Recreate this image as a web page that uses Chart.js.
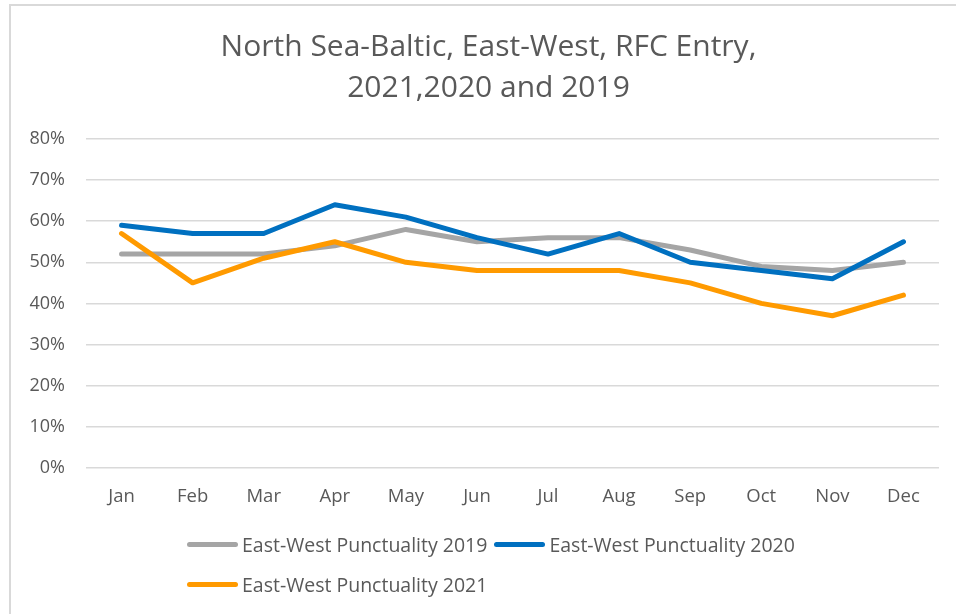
<!DOCTYPE html>
<html>
<head>
<meta charset="utf-8">
<script src="https://cdn.jsdelivr.net/npm/chart.js@4.4.1/dist/chart.umd.min.js"></script>
<style>
    html, body { margin: 0; padding: 0; background: #fff; }
    #wrap { position: relative; width: 956px; height: 614px; overflow: hidden; }
    #frame { position: absolute; left: 9px; top: 4px; width: 980px; height: 640px;
             border-top: 2px solid #d9d9d9; border-left: 2px solid #d9d9d9; }
    #chart { position: absolute; left: 0; top: 0; }
    #legend { position: absolute; left: 187px; top: 524px; width: 660px;
              display: flex; flex-wrap: wrap; font-family: 'Open Sans', sans-serif;
              font-size: 19.5px; color: #595959; }
    .item { display: flex; align-items: center; height: 40px; margin-right: 7px; }
    .swatch { width: 51px; height: 5px; border-radius: 3px; margin-right: 4px; }
</style>
</head>
<body>
<div id="wrap">
    <div id="frame"></div>
    <canvas id="chart" width="956" height="614"></canvas>
    <div id="legend"></div>
</div>
<script>
const months = ['Jan', 'Feb', 'Mar', 'Apr', 'May', 'Jun', 'Jul', 'Aug', 'Sep', 'Oct', 'Nov', 'Dec'];
const punct2019 = [52, 52, 52, 54, 58, 55, 56, 56, 53, 49, 48, 50];
const punct2020 = [59, 57, 57, 64, 61, 56, 52, 57, 50, 48, 46, 55];
const punct2021 = [57, 45, 51, 55, 50, 48, 48, 48, 45, 40, 37, 42];
const titleLines = ['North Sea-Baltic, East-West, RFC Entry,', '2021,2020 and 2019'];

const textColor = '#595959';
const fontName = 'Open Sans';

function line(label, data, color, order) {
    return {
        label: label,
        data: data,
        borderColor: color,
        backgroundColor: color,
        borderWidth: 5,
        borderCapStyle: 'round',
        borderJoinStyle: 'round',
        pointRadius: 0,
        tension: 0,
        fill: false,
        order: order
    };
}

// title in the original is centred on the frame, not on the canvas
const shiftTitle = {
    id: 'shiftTitle',
    afterLayout(chart) {
        const t = chart.titleBlock;
        if (!t) return;
        t.left += 19;
        t.right += 19;
    }
};

const chart = new Chart(document.getElementById('chart').getContext('2d'), {
    type: 'line',
    data: {
        labels: months,
        datasets: [
            line('East-West Punctuality 2019', punct2019, '#A5A5A5', 3),
            line('East-West Punctuality 2020', punct2020, '#0070C0', 2),
            line('East-West Punctuality 2021', punct2021, '#FF9A00', 1)
        ]
    },
    plugins: [shiftTitle],
    options: {
        responsive: false,
        animation: false,
        layout: { padding: { left: 0, right: 17, top: 0, bottom: 88 } },
        plugins: {
            legend: { display: false },
            tooltip: { enabled: false },
            title: {
                display: true,
                text: titleLines,
                color: textColor,
                font: { family: fontName, size: 30, weight: 'normal', lineHeight: 41 / 30 },
                padding: { top: 27, bottom: 30 }
            }
        },
        scales: {
            x: {
                offset: true,
                grid: { display: false, drawTicks: false },
                border: { display: false },
                ticks: { color: textColor, padding: 18, font: { family: fontName, size: 18.5 } }
            },
            y: {
                min: 0,
                max: 80,
                grid: { color: '#d9d9d9', lineWidth: 1.5, drawTicks: false },
                border: { display: false },
                ticks: {
                    stepSize: 10,
                    padding: 21,
                    color: textColor,
                    font: { family: fontName, size: 18 },
                    callback: v => v + '%'
                },
                afterFit: s => { s.width = 86; }
            }
        }
    }
});

// legend as html, rows like the original
const legendEl = document.getElementById('legend');
chart.data.datasets.forEach(ds => {
    const item = document.createElement('div');
    item.className = 'item';
    const sw = document.createElement('span');
    sw.className = 'swatch';
    sw.style.background = ds.borderColor;
    const txt = document.createElement('span');
    txt.textContent = ds.label;
    item.appendChild(sw);
    item.appendChild(txt);
    legendEl.appendChild(item);
});
</script>
</body>
</html>
